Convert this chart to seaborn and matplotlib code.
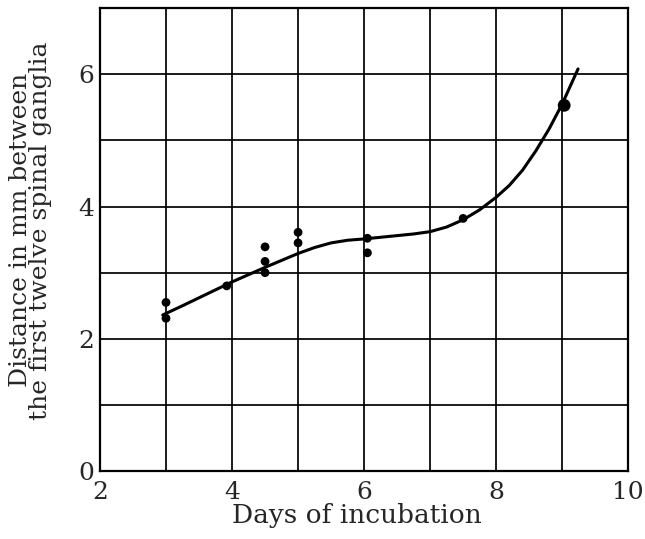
import pandas as pd
import matplotlib
matplotlib.use("Agg")
import matplotlib.pyplot as plt
import seaborn as sns

# -----------------------------
# Data
# -----------------------------
days = [3.0, 3.0, 3.92, 4.5, 4.5, 4.5, 5.0, 5.0, 6.05, 6.05, 7.5]
distance = [2.55, 2.31, 2.80, 3.39, 3.17, 3.00, 3.61, 3.45, 3.52, 3.30, 3.82]

big_day = [9.03]
big_distance = [5.53]

# hand-drawn smooth curve through the points
curve_days = [2.95, 3.25, 3.5, 3.75, 4.0, 4.5, 5.0, 5.25, 5.5, 5.75, 6.0,
              6.25, 6.5, 6.75, 7.0, 7.25, 7.5, 7.75, 8.0, 8.2, 8.4, 8.6,
              8.8, 9.0, 9.24]
curve_distance = [2.36, 2.50, 2.62, 2.74, 2.86, 3.08, 3.29, 3.38, 3.45, 3.49,
                  3.51, 3.535, 3.56, 3.585, 3.62, 3.69, 3.80, 3.95, 4.14,
                  4.32, 4.55, 4.84, 5.17, 5.55, 6.08]

x_ticks = [2, 4, 6, 8, 10]
y_ticks = [0, 2, 4, 6]

points = pd.DataFrame({"days": days, "distance": distance})
big = pd.DataFrame({"days": big_day, "distance": big_distance})
curve = pd.DataFrame({"days": curve_days, "distance": curve_distance})

# -----------------------------
# Figure
# -----------------------------
sns.set_style("white")
plt.rcParams["font.family"] = ["DejaVu Serif"]

fig = plt.figure(figsize=(6.45, 5.39), dpi=100)
ax = fig.add_axes([0.155, 0.126, 0.819, 0.859])

sns.lineplot(data=curve, x="days", y="distance", color="black", lw=2.2,
             sort=False, ax=ax, zorder=3)
sns.scatterplot(data=points, x="days", y="distance", color="black", s=40,
                edgecolor="none", ax=ax, zorder=4)
sns.scatterplot(data=big, x="days", y="distance", color="black", s=85,
                edgecolor="none", ax=ax, zorder=4)

ax.set_xlim(2, 10)
ax.set_ylim(0, 7)

# grid every unit
ax.set_xticks(x_ticks)
ax.set_yticks(y_ticks)
ax.set_xticks(range(2, 11), minor=True)
ax.set_yticks(range(0, 8), minor=True)
ax.grid(which="both", color="black", lw=1.25)
ax.set_axisbelow(True)

ax.set_xticklabels([str(v) for v in x_ticks], fontsize=18)
ax.set_yticklabels([str(v) for v in y_ticks], fontsize=18)
ax.tick_params(which="both", length=0, pad=4)
ax.tick_params(axis="x", pad=7)

for s in ax.spines.values():
    s.set_color("black")
    s.set_linewidth(1.6)

ax.set_xlabel("Days of incubation", fontsize=19)
ax.xaxis.set_label_coords(0.487, -0.07)
ax.set_ylabel("Distance in mm between\nthe first twelve spinal ganglia",
              fontsize=18, linespacing=0.85)
ax.yaxis.set_label_coords(-0.09, 0.52)

fig.savefig("out.png", dpi=100)
